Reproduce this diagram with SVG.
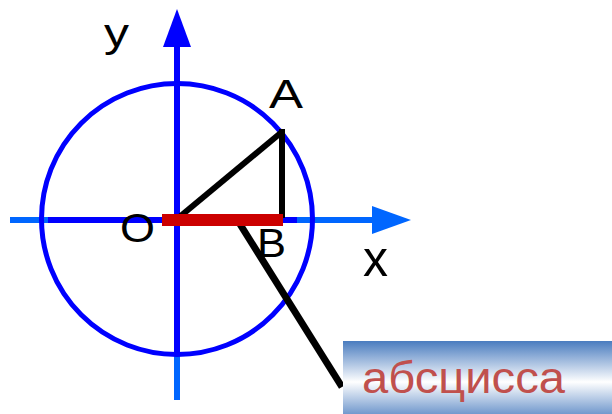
<svg xmlns="http://www.w3.org/2000/svg" width="612" height="414" viewBox="0 0 612 414">
  <defs>
    <linearGradient id="boxGrad" x1="0" y1="0" x2="0" y2="1">
      <stop offset="0" stop-color="#4a7cbf"/>
      <stop offset="0.5" stop-color="#ffffff"/>
      <stop offset="1" stop-color="#4a7cbf"/>
    </linearGradient>
    <style>
      .lbl { font-family: "Liberation Sans", Arial, sans-serif; font-size: 40px; fill: #000000; }
      .axisA { stroke: #0066ff; stroke-width: 6; fill: none; }
      .axisB { stroke: #0000ff; stroke-width: 6; fill: none; }
      .blk { stroke: #000000; stroke-width: 6; fill: none; }
    </style>
  </defs>
  <rect x="0" y="0" width="612" height="414" fill="#ffffff"/>

  <g id="axes">
    <line class="axisA" x1="10" y1="220" x2="376" y2="220"/>
    <polygon points="372,206 411,220 372,234" fill="#0066ff"/>
    <line class="axisB" x1="48" y1="220" x2="297" y2="220"/>
    <line class="axisB" x1="177" y1="44" x2="177" y2="355"/>
    <line class="axisA" x1="177" y1="355" x2="177" y2="400"/>
    <polygon points="163,47 177,9 191,47" fill="#0000ff"/>
  </g>

  <g id="circle">
    <circle cx="177" cy="219" r="135.5" fill="none" stroke="#0000ff" stroke-width="5"/>
  </g>

  <g id="connectors">
    <line class="blk" x1="177" y1="219" x2="283" y2="131"/>
    <line class="blk" x1="282" y1="129" x2="282" y2="218"/>
    <line x1="238" y1="221" x2="342" y2="387" stroke="#000000" stroke-width="7"/>
    <rect x="162" y="214" width="121" height="12" fill="#cc0000"/>
  </g>

  <g id="labels">
    <text class="lbl" x="104" y="47" textLength="25" lengthAdjust="spacingAndGlyphs">у</text>
    <text class="lbl" x="269" y="108" textLength="34" lengthAdjust="spacingAndGlyphs">A</text>
    <text class="lbl" x="120" y="242" textLength="35" lengthAdjust="spacingAndGlyphs">O</text>
    <text class="lbl" x="257" y="257" textLength="29" lengthAdjust="spacingAndGlyphs">B</text>
    <text class="lbl" x="363" y="276" style="font-size:50px" textLength="25" lengthAdjust="spacingAndGlyphs">x</text>
  </g>

  <g id="node-abscissa">
    <rect x="343" y="341" width="269" height="82" fill="url(#boxGrad)"/>
    <text x="362" y="393" font-family="Liberation Sans, Arial, sans-serif" font-size="44" fill="#c0504d" textLength="203" lengthAdjust="spacingAndGlyphs">абсцисса</text>
  </g>
</svg>
